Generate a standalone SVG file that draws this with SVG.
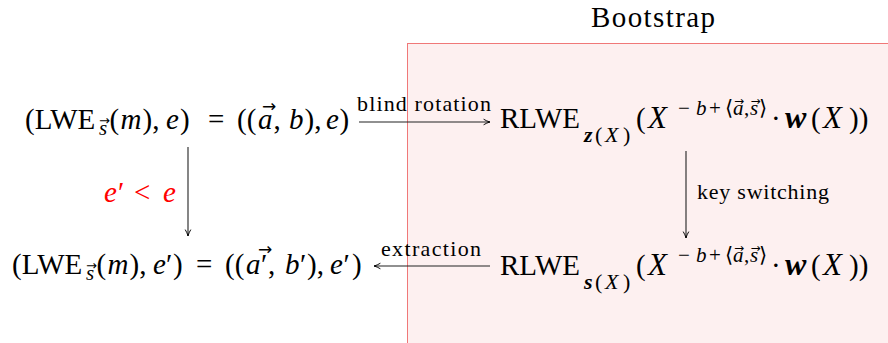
<svg xmlns="http://www.w3.org/2000/svg" width="888" height="343" viewBox="0 0 888 343">
<defs>
<style>
text{font-family:"Liberation Serif","DejaVu Serif",serif;fill:#000}
.m{font-size:29px}
.l{font-size:22px}
.i{font-style:italic}
.bi{font-style:italic;font-weight:bold}
.s{font-size:21px}
.ss{font-size:22px}
.v{font-size:17px;font-family:"DejaVu Sans",sans-serif}
.vs{font-size:13px;font-family:"DejaVu Sans",sans-serif}
.vt{font-size:12px;font-family:"DejaVu Sans",sans-serif}
.red{fill:#ff0000}
.c{stroke:#222;stroke-width:1.1;fill:none}
</style>
<marker id="ah" viewBox="0 0 10 10" refX="9" refY="5" markerWidth="8" markerHeight="8" markerUnits="userSpaceOnUse" orient="auto">
<path d="M1,1.5 Q5,4 9,5 Q5,6 1,8.5" fill="none" stroke="#000" stroke-width="1.2"/>
</marker>
</defs>
<rect width="888" height="343" fill="#fff"/>
<g id="bootstrap">
<rect x="407.5" y="43.5" width="490" height="310" fill="#fdf0f0" stroke="#f07878" stroke-width="1"/>
<text x="591" y="27" font-size="29" textLength="124" lengthAdjust="spacing">Bootstrap</text>
</g>
<g id="connectors">
<line class="c" x1="359" y1="122" x2="490" y2="122" marker-end="url(#ah)"/>
<text class="l" x="357" y="111" textLength="134" lengthAdjust="spacing">blind rotation</text>
<line class="c" x1="686" y1="151" x2="686" y2="238" marker-end="url(#ah)"/>
<text class="l" x="697" y="199" textLength="132" lengthAdjust="spacing">key switching</text>
<line class="c" x1="490" y1="266" x2="374" y2="266" marker-end="url(#ah)"/>
<text class="l" x="381" y="256" textLength="100" lengthAdjust="spacing">extraction</text>
<line class="c" x1="188" y1="147" x2="188" y2="236" marker-end="url(#ah)"/>
<text class="m red" y="202"><tspan class="i" x="104">e</tspan><tspan x="118">′</tspan><tspan x="134">&lt;</tspan><tspan class="i" x="163">e</tspan></text>
</g>
<g id="lwe-top">
<text class="m" y="129"><tspan x="25">(LWE</tspan><tspan class="s i" x="99" y="135">s</tspan><tspan class="vs" x="104.5" y="125" text-anchor="middle">→</tspan><tspan x="109.5" y="129">(</tspan><tspan class="i" x="120.5">m</tspan><tspan x="142.5">),</tspan><tspan class="i" x="166">e</tspan><tspan x="180">)</tspan><tspan x="208">=</tspan><tspan x="237">((</tspan><tspan class="i" x="258">a</tspan><tspan class="v" x="269" y="112" text-anchor="middle">→</tspan><tspan x="273.5" y="129">,</tspan><tspan class="i" x="289">b</tspan><tspan x="304.5">),</tspan><tspan class="i" x="326">e</tspan><tspan x="339.5">)</tspan></text>
</g>
<g id="rlwe-top">
<text class="m" y="128"><tspan x="500">RLWE</tspan><tspan class="ss bi" x="584" y="142">z</tspan><tspan class="ss" x="595">(</tspan><tspan class="ss i" x="605">X</tspan><tspan class="ss" x="623">)</tspan><tspan x="636" y="128">(</tspan><tspan class="i" font-size="31" x="648">X</tspan><tspan class="s" x="678" y="115">−</tspan><tspan class="s i" x="696">b</tspan><tspan class="s" x="709">+</tspan><tspan class="s" x="725">⟨</tspan><tspan class="s i" x="733">a</tspan><tspan class="vt" x="739" y="105" text-anchor="middle">→</tspan><tspan class="s" x="744" y="115">,</tspan><tspan class="s i" x="750">s</tspan><tspan class="vt" x="755.5" y="105" text-anchor="middle">→</tspan><tspan class="s" x="759" y="115">⟩</tspan><tspan x="771" y="128">·</tspan><tspan class="bi" font-size="32" x="785">w</tspan><tspan x="811">(</tspan><tspan class="i" font-size="31" x="823">X</tspan><tspan x="849">))</tspan></text>
</g>
<g id="rlwe-bottom">
<text class="m" y="275"><tspan x="500">RLWE</tspan><tspan class="ss bi" x="584" y="289">s</tspan><tspan class="ss" x="595">(</tspan><tspan class="ss i" x="605">X</tspan><tspan class="ss" x="623">)</tspan><tspan x="636" y="275">(</tspan><tspan class="i" font-size="31" x="648">X</tspan><tspan class="s" x="678" y="262">−</tspan><tspan class="s i" x="696">b</tspan><tspan class="s" x="709">+</tspan><tspan class="s" x="725">⟨</tspan><tspan class="s i" x="733">a</tspan><tspan class="vt" x="739" y="252" text-anchor="middle">→</tspan><tspan class="s" x="744" y="262">,</tspan><tspan class="s i" x="750">s</tspan><tspan class="vt" x="755.5" y="252" text-anchor="middle">→</tspan><tspan class="s" x="759" y="262">⟩</tspan><tspan x="771" y="275">·</tspan><tspan class="bi" font-size="32" x="785">w</tspan><tspan x="811">(</tspan><tspan class="i" font-size="31" x="823">X</tspan><tspan x="849">))</tspan></text>
</g>
<g id="lwe-bottom">
<text class="m" y="274"><tspan x="12">(LWE</tspan><tspan class="s i" x="86" y="280">s</tspan><tspan class="vs" x="91.5" y="270" text-anchor="middle">→</tspan><tspan x="96.5" y="274">(</tspan><tspan class="i" x="107.5">m</tspan><tspan x="129.5">),</tspan><tspan class="i" x="153">e</tspan><tspan x="166">′</tspan><tspan x="173">)</tspan><tspan x="196">=</tspan><tspan x="225">((</tspan><tspan class="i" x="246">a</tspan><tspan x="261">′</tspan><tspan class="v" x="265" y="255" text-anchor="middle">→</tspan><tspan x="268" y="274">,</tspan><tspan class="i" x="285">b</tspan><tspan x="300">′</tspan><tspan x="307">),</tspan><tspan class="i" x="330">e</tspan><tspan x="343.5">′</tspan><tspan x="352">)</tspan></text>
</g>
</svg>
